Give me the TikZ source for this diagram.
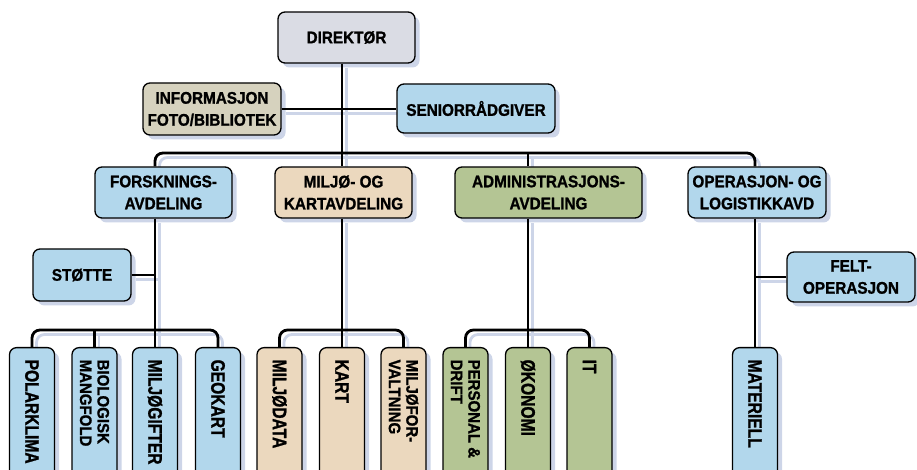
\documentclass[tikz,border=0pt]{standalone}
\usepackage{fontspec}
\usepackage{graphicx}
\usetikzlibrary{shadows}
\newfontfamily\orgfont{Liberation Sans Bold}[FakeStretch=0.91,FakeBold=1.2]
\newfontfamily\basfont{Liberation Sans Bold}[FakeStretch=0.8,FakeBold=1.2]
\definecolor{gris}{RGB}{218,220,228}
\definecolor{kaki}{RGB}{214,210,190}
\definecolor{bleu}{RGB}{178,215,236}
\definecolor{beige}{RGB}{235,216,190}
\definecolor{vert}{RGB}{180,197,148}
\definecolor{ombrecol}{RGB}{205,213,232}
\pgfdeclarelayer{ombre}
\pgfdeclarelayer{devant}
\pgfsetlayers{ombre,main,devant}
\tikzset{
  boite/.style={draw, line width=1.3pt, rounded corners=7pt, align=center, inner sep=0pt,
    font=\orgfont\fontsize{16.8}{22}\selectfont,
    drop shadow={shadow xshift=4.5pt, shadow yshift=-4.5pt, fill=ombrecol, opacity=1}},
  bas/.style={boite, anchor=north, minimum width=45pt, inner ysep=12pt},
  lien/.style={line width=2.8pt, rounded corners=8pt}
}
% texte vertical, une ou deux lignes
\newcommand\vtexte[1]{\rotatebox{-90}{\parbox{150pt}{\raggedright\basfont\fontsize{19.5}{19}\selectfont #1}}}
\newcommand\vdeux[2]{\rotatebox{-90}{\parbox{150pt}{\raggedright\orgfont\fontsize{16.5}{17.5}\selectfont #1\\#2}}}
% liens entre les boites
\newcommand\connexions{%
  %direktør
  \draw[lien] (dir.south -| bm) -- (milj.north -| bm);
  \draw[lien] (info.east) -- (info.east -| senior.west);
  \draw[lien] (forsk.north -| bf) |- (bo) -- (op.north -| bo);
  \draw[lien] (ba) -- (admin.north -| ba);
  %forskning
  \draw[lien] (forsk.south -| gift) -- (gift.north);
  \draw[lien] (stotte.east) -- (stotte.east -| gift);
  \draw[lien] (polar.north) |- (sb -| geo) -- (geo.north);
  \draw[lien] (bio.north) -- (bio.north |- sb);
  %miljø
  \draw[lien] (milj.south -| kart) -- (kart.north);
  \draw[lien] (mdata.north) |- (sb -| forv) -- (forv.north);
  %administrasjon
  \draw[lien] (admin.south -| oko) -- (oko.north);
  \draw[lien] (pers.north) |- (sb -| it) -- (it.north);
  %operasjon
  \draw[lien] (op.south -| mat) -- (mat.north);
  \draw[lien] (felt.west) -- (felt.west -| mat);
}
\begin{document}
\begin{tikzpicture}[x=1pt,y=1pt]
  \useasboundingbox (0,0) rectangle (917,470);
  %points de la barre
  \coordinate (bf) at (155,317);
  \coordinate (bm) at (342,317);
  \coordinate (ba) at (528,317);
  \coordinate (bo) at (755,317);
  \coordinate (sb) at (0,140);
  %niveau 0
  \node[boite, fill=gris, minimum width=137pt, minimum height=51pt] (dir) at (346.5,432.5) {DIREKTØR};
  \node[boite, fill=kaki, minimum width=138pt, minimum height=52pt] (info) at (212,361) {INFORMASJON\\FOTO/BIBLIOTEK};
  \node[boite, fill=bleu, minimum width=158pt, minimum height=49pt] (senior) at (476,361.5) {SENIORRÅDGIVER};
  %niveau 1
  \node[boite, fill=bleu, minimum width=137pt, minimum height=51pt] (forsk) at (163.5,277.5) {FORSKNINGS-\\AVDELING};
  \node[boite, fill=beige, minimum width=137pt, minimum height=51pt] (milj) at (343.5,277.5) {MILJØ- OG\\KARTAVDELING};
  \node[boite, fill=vert, minimum width=187pt, minimum height=51pt] (admin) at (548.5,277.5) {ADMINISTRASJONS-\\AVDELING};
  \node[boite, fill=bleu, minimum width=138pt, minimum height=51pt] (op) at (757,277.5) {OPERASJON- OG\\LOGISTIKKAVD};
  \node[boite, fill=bleu, minimum width=98pt, minimum height=52pt] (stotte) at (82,195) {STØTTE};
  \node[boite, fill=bleu, minimum width=128pt, minimum height=50pt] (felt) at (851,193) {FELT-\\OPERASJON};
  %niveau 2
  \node[bas, fill=bleu] (polar) at (32,123) {\vtexte{POLARKLIMA}};
  \node[bas, fill=bleu] (bio) at (94.5,123) {\vdeux{BIOLOGISK}{MANGFOLD}};
  \node[bas, fill=bleu] (gift) at (155,123) {\vtexte{MILJØGIFTER}};
  \node[bas, fill=bleu] (geo) at (218,123) {\vtexte{GEOKART}};
  \node[bas, fill=beige] (mdata) at (279.5,123) {\vtexte{MILJØDATA}};
  \node[bas, fill=beige] (kart) at (342,123) {\vtexte{KART}};
  \node[bas, fill=beige] (forv) at (403.5,123) {\vdeux{MILJØFOR-}{VALTNING}};
  \node[bas, fill=vert] (pers) at (465.5,123) {\vdeux{PERSONAL \&}{DRIFT}};
  \node[bas, fill=vert] (oko) at (528,123) {\vtexte{ØKONOMI}};
  \node[bas, fill=vert] (it) at (589.5,123) {\vtexte{IT}};
  \node[bas, fill=bleu] (mat) at (755,123) {\vtexte{MATERIELL}};
  %ombres des liens
  \begin{pgfonlayer}{ombre}
    \begin{scope}[transform canvas={shift={(4.5pt,-4.5pt)}}, lien/.append style={draw=ombrecol}]
      \connexions
    \end{scope}
  \end{pgfonlayer}
  %liens
  \begin{pgfonlayer}{devant}
    \connexions
  \end{pgfonlayer}
\end{tikzpicture}
\end{document}
